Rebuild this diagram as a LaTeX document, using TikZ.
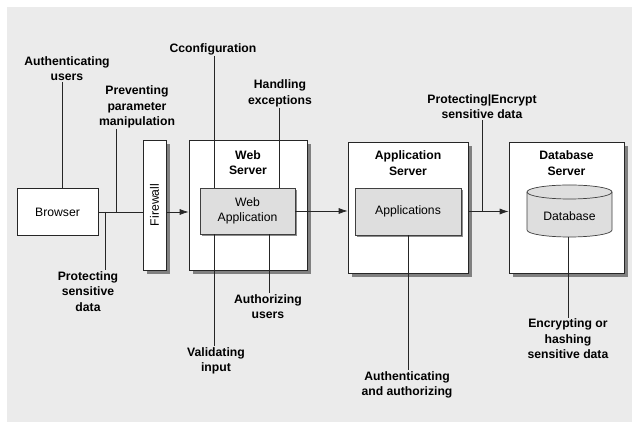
\documentclass[tikz,border=0pt]{standalone}
\usepackage{fontspec}
\setmainfont{Liberation Sans}
\usepackage{tikz}
\usetikzlibrary{calc,arrows.meta,shadows,positioning}
\definecolor{bggrey}{gray}{0.92}
\definecolor{ingrey}{gray}{0.87}

\begin{document}
\begin{tikzpicture}[x=1pt,y=1pt]

\tikzset{srvbox/.style={draw=black!85,fill=white,line width=0.7pt,inner sep=0pt,
  drop shadow={shadow xshift=4pt,shadow yshift=-4pt,fill=black!50,opacity=1}},
plainbox/.style={draw=black!85,fill=white,line width=0.7pt,inner sep=0pt},
appbox/.style={draw=black!75,fill=ingrey,line width=0.7pt,inner sep=0pt,align=center,
  drop shadow={shadow xshift=2pt,shadow yshift=-2pt,fill=black!45,opacity=1}},
note/.style={font=\bfseries,align=center,inner sep=1pt},
title/.style={font=\bfseries,align=center,inner sep=0pt},
wire/.style={draw=black!85,line width=0.7pt},
flow/.style={wire,-{Latex[length=9pt,width=6pt]}}}

\fontsize{12.2}{15.5}\selectfont

% Background
\useasboundingbox (0,0) rectangle (632,422);
\fill[bggrey] (7,0) rectangle (632,415);

% Boxes
\node[plainbox,minimum width=81,minimum height=47] (br) at (57.5,210) {Browser};
\node[srvbox,minimum width=23,minimum height=130] (fw) at (154.5,217) {};
\node[rotate=90] at (fw) {Firewall};
\node[srvbox,minimum width=118,minimum height=130] (ws) at (248,217) {};
\node[title] (wst) at (248,259.5) {Web\\Server};
\node[appbox,minimum width=95,minimum height=46] (wa) at (247.5,211) {Web\\Application};
\node[srvbox,minimum width=120,minimum height=131] (as) at (408,214.5) {};
\node[title] (ast) at (408,259) {Application\\Server};
\node[appbox,minimum width=106,minimum height=47] (ap) at (408,210.5) {Applications};
\node[srvbox,minimum width=115,minimum height=131] (ds) at (566.5,214.5) {};
\node[title] (dst) at (566.5,259) {Database\\Server};

% Database cylinder
\filldraw[draw=black!75,fill=ingrey,line width=0.7pt] (527,230) -- (527,192)
  arc[start angle=180,end angle=360,x radius=42.5,y radius=7] -- (612,230)
  arc[start angle=0,end angle=180,x radius=42.5,y radius=7] -- cycle;
\draw[draw=black!75,line width=0.7pt] (527,230) arc[start angle=180,end angle=360,x radius=42.5,y radius=7];
\node (db) at (569.5,206) {Database};
\coordinate (dbbot) at (568,185);

% Notes
\node[note] (n1) at (67,353.5) {Authenticating\\users};
\node[note] (n2) at (137,315) {Preventing\\parameter\\manipulation};
\node[note] (n3) at (88,130.5) {Protecting\\sensitive\\data};
\node[note] (n4) at (213,373) {Cconfiguration};
\node[note] (n5) at (280,328.5) {Handling\\exceptions};
\node[note] (n6) at (268,115.5) {Authorizing\\users};
\node[note] (n7) at (216,61) {Validating\\input};
\node[note] (n8) at (407,37) {Authenticating\\and authorizing};
\node[note] (n9) at (482,315.5) {Protecting|Encrypt\\sensitive data};
\node[note] (n10) at (568,83) {Encrypting or\\hashing\\sensitive data};

% Main flow
\draw[wire] (br.east) -- (fw.west |- br.east);
\draw[flow] (fw.east |- br.east) -- (ws.west |- br.east);
\draw[flow] (wa.east) -- (as.west |- wa.east);
\draw[flow] (as.east |- ap.east) -- (ds.west |- ap.east);

% Note lines
\draw[wire] (n1.south -| 62,0) -- (br.north -| 62,0);
\draw[wire] (n2.south -| 116,0) -- (br.east -| 116,0);
\draw[wire] (br.east -| 105,0) -- (n3.north -| 105,0);
\draw[wire] (n4.south -| 214,0) -- (wa.north -| 214,0);
\draw[wire] (n5.south -| 279,0) -- (wa.north -| 279,0);
\draw[wire] (wa.south -| 269,0) -- (n6.north -| 269,0);
\draw[wire] (wa.south -| 214,0) -- (n7.north -| 214,0);
\draw[wire] (ap.south) -- (n8.north -| ap.south);
\draw[wire] (n9.south) -- (n9.south |- ap.east);
\draw[wire] (dbbot) -- (n10.north -| dbbot);

\end{tikzpicture}
\end{document}
